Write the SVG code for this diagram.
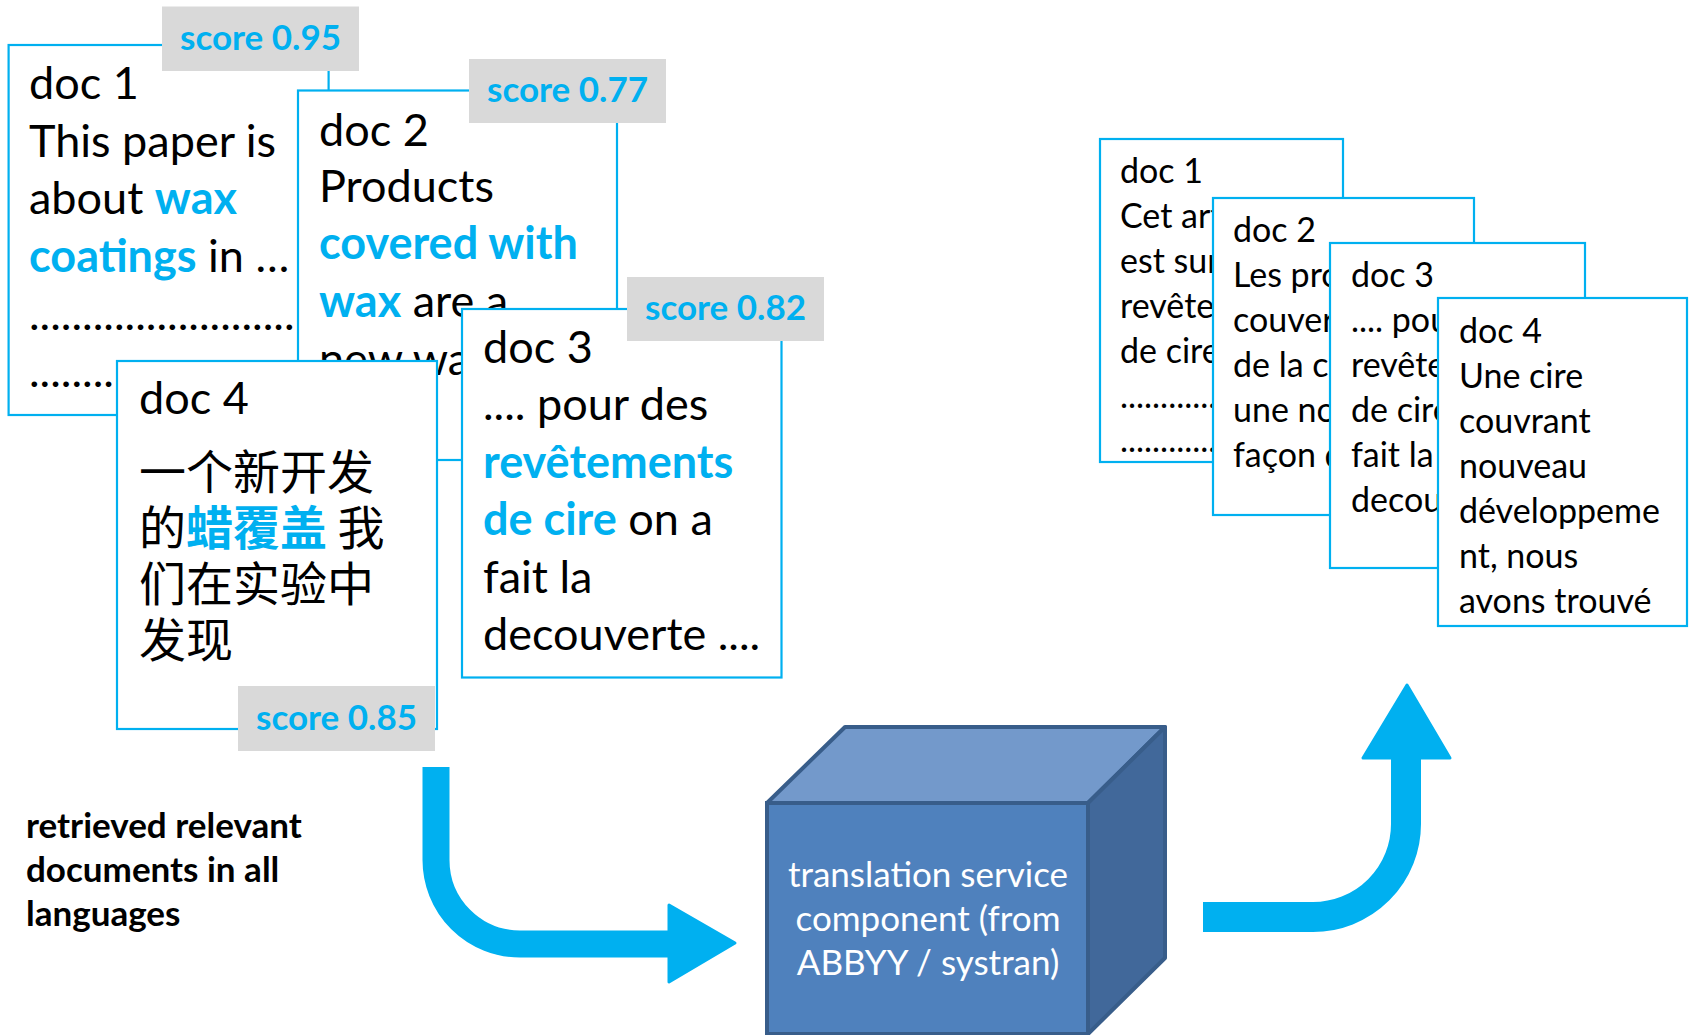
<svg xmlns="http://www.w3.org/2000/svg" width="1689" height="1035" viewBox="0 0 1689 1035">
<style>
.box{fill:#fff;stroke:#00B0F0;stroke-width:2.2}
.score{fill:#D9D9D9}
.st{font-family:Lato,'Liberation Sans',sans-serif;font-weight:bold;font-size:35px;fill:#00B0F0;text-anchor:middle}
.big{font-family:Lato,'Liberation Sans',sans-serif;font-size:45px;fill:#000}
.sm{font-family:Lato,'Liberation Sans',sans-serif;font-size:34px;fill:#000}
.hl{fill:#00B0F0;font-weight:bold}
.cjk{font-family:'Noto Sans CJK SC',sans-serif;font-size:47px;fill:#000}
.lbl{font-family:Lato,'Liberation Sans',sans-serif;font-weight:bold;font-size:35px;fill:#000}
.cube{font-family:Lato,'Liberation Sans',sans-serif;font-size:35px;fill:#fff;text-anchor:middle}
.arr{fill:none;stroke:#00B0F0}
.head{fill:#00B0F0;stroke:#00B0F0;stroke-width:3;stroke-linejoin:round}
</style>
<g id="doc1">
<rect class="box" x="8.6" y="45" width="320" height="370"/>
<text class="big" x="29" y="99">doc 1</text>
<text class="big" x="29" y="157">This paper is</text>
<text class="big" x="29" y="214">about <tspan class="hl">wax</tspan></text>
<text class="big" x="29" y="272"><tspan class="hl">coatings</tspan> in …</text>
<text class="big" x="29" y="330">.........................</text>
<text class="big" x="29" y="387">........</text>
</g>
<g id="score1">
<rect class="score" x="162" y="6.5" width="197" height="64.5"/>
<text class="st" x="260.5" y="50">score 0.95</text>
</g>
<g id="doc2">
<rect class="box" x="298" y="90.5" width="319" height="369.5"/>
<text class="big" x="319" y="146">doc 2</text>
<text class="big" x="319" y="202">Products</text>
<text class="big" x="319" y="259"><tspan class="hl">covered with</tspan></text>
<text class="big" x="319" y="317"><tspan class="hl">wax</tspan> are a</text>
<text class="big" x="319" y="375">new wa</text>
</g>
<g id="score2">
<rect class="score" x="469" y="59" width="197" height="64"/>
<text class="st" x="567.5" y="102">score 0.77</text>
</g>
<g id="doc3">
<rect class="box" x="462" y="309" width="319.5" height="368.5"/>
<text class="big" x="483" y="363">doc 3</text>
<text class="big" x="483" y="420">.... pour des</text>
<text class="big" x="483" y="478"><tspan class="hl">revêtements</tspan></text>
<text class="big" x="483" y="535"><tspan class="hl">de cire</tspan> on a</text>
<text class="big" x="483" y="593">fait la</text>
<text class="big" x="483" y="650">decouverte ....</text>
</g>
<g id="score3">
<rect class="score" x="627" y="277" width="197" height="64"/>
<text class="st" x="725.5" y="320">score 0.82</text>
</g>
<g id="doc4">
<rect class="box" x="117" y="361" width="320" height="368"/>
<text class="big" x="139" y="414">doc 4</text>
<text class="cjk" x="139" y="489">一个新开发</text>
<text class="cjk" x="139" y="545">的<tspan class="hl">蜡覆盖</tspan> 我</text>
<text class="cjk" x="139" y="601">们在实验中</text>
<text class="cjk" x="139" y="657">发现</text>
</g>
<g id="score4">
<rect class="score" x="238" y="686" width="197" height="65"/>
<text class="st" x="336.5" y="730">score 0.85</text>
</g>
<g id="label">
<text class="lbl" x="26" y="838">retrieved relevant</text>
<text class="lbl" x="26" y="882">documents in all</text>
<text class="lbl" x="26" y="926">languages</text>
</g>
<g id="translator">
<polygon points="767,803 845,727 1165,727 1088,803" fill="#7399CB" stroke="#385D8A" stroke-width="4" stroke-linejoin="round"/>
<polygon points="1088,803 1165,727 1165,958 1088,1034" fill="#41689A" stroke="#385D8A" stroke-width="4" stroke-linejoin="round"/>
<rect x="767" y="803" width="321" height="231" fill="#4F81BD" stroke="#385D8A" stroke-width="4"/>
<text class="cube" x="928" y="887">translation service</text>
<text class="cube" x="928" y="931">component (from</text>
<text class="cube" x="928" y="975">ABBYY / systran)</text>
</g>
<g id="rdoc1">
<rect class="box" x="1100" y="139" width="243" height="323"/>
<text class="sm" x="1120" y="183">doc 1</text>
<text class="sm" x="1120" y="228">Cet art</text>
<text class="sm" x="1120" y="273">est sur</text>
<text class="sm" x="1120" y="318">revête</text>
<text class="sm" x="1120" y="363">de cire</text>
<text class="sm" x="1120" y="408">............</text>
<text class="sm" x="1120" y="452">............</text>
</g>
<g id="rdoc2">
<rect class="box" x="1213" y="198" width="261" height="317"/>
<text class="sm" x="1233" y="242">doc 2</text>
<text class="sm" x="1233" y="287">Les pro</text>
<text class="sm" x="1233" y="332">couver</text>
<text class="sm" x="1233" y="377">de la c</text>
<text class="sm" x="1233" y="422">une no</text>
<text class="sm" x="1233" y="467">façon d</text>
</g>
<g id="rdoc3">
<rect class="box" x="1330" y="243" width="255" height="325"/>
<text class="sm" x="1351" y="287">doc 3</text>
<text class="sm" x="1351" y="332">.... pou</text>
<text class="sm" x="1351" y="377">revête</text>
<text class="sm" x="1351" y="422">de cire</text>
<text class="sm" x="1351" y="467">fait la</text>
<text class="sm" x="1351" y="512">decou</text>
</g>
<g id="rdoc4">
<rect class="box" x="1438" y="298" width="249" height="328"/>
<text class="sm" x="1459" y="343">doc 4</text>
<text class="sm" x="1459" y="388">Une cire</text>
<text class="sm" x="1459" y="433">couvrant</text>
<text class="sm" x="1459" y="478">nouveau</text>
<text class="sm" x="1459" y="523">développeme</text>
<text class="sm" x="1459" y="568">nt, nous</text>
<text class="sm" x="1459" y="613">avons trouvé</text>
</g>
<g id="connectors">
<path class="arr" stroke-width="27" d="M436,767 V860 A84,84 0 0 0 520,944 H671"/>
<polygon class="head" points="669,905 735,943 669,982"/>
<path class="arr" stroke-width="30" d="M1203,917 H1313 A93,93 0 0 0 1406,824 V756"/>
<polygon class="head" points="1363,758 1407,685 1450,758"/>
</g>
</svg>
